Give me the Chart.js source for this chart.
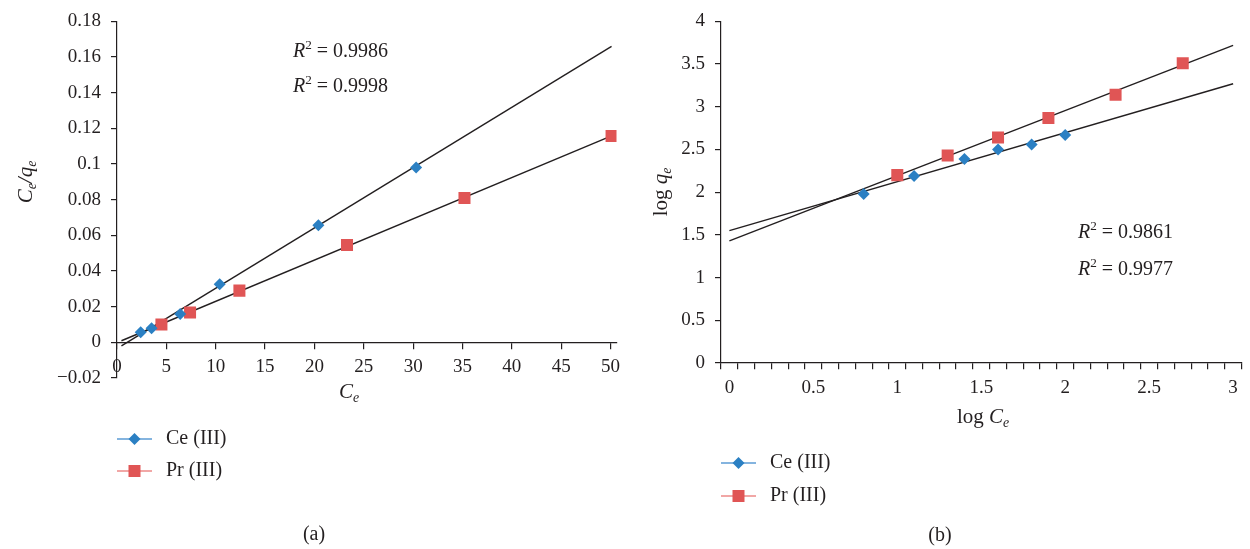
<!DOCTYPE html>
<html>
<head>
<meta charset="utf-8">
<script src="https://cdn.jsdelivr.net/npm/chart.js@4/dist/chart.umd.min.js"></script>
<style>
  body { margin: 0; background: #fff; }
  #wrap { position: relative; width: 1250px; height: 549px; }
  canvas { position: absolute; top: 0; }
</style>
</head>
<body>
<div id="wrap">
  <canvas id="chartA" width="625" height="549" style="left:0"></canvas>
  <canvas id="chartB" width="625" height="549" style="left:625px"></canvas>
</div>
<script>
// (a) Ce/qe vs Ce
const ceXa = [2.4, 3.5, 6.4, 10.4, 20.4, 30.3];
const ceYa = [0.0057, 0.0079, 0.0159, 0.0326, 0.0657, 0.098];
const prXa = [4.5, 7.4, 12.4, 23.3, 35.2, 50.1];
const prYa = [0.0100, 0.0167, 0.0290, 0.0546, 0.0810, 0.1157];
const ceFitXa = [0.45, 50.1];
const ceFitYa = [-0.002, 0.166];
const prFitXa = [0.45, 50.1];
const prFitYa = [0.0009, 0.1158];
const xTicksA = [0, 5, 10, 15, 20, 25, 30, 35, 40, 45, 50];
const yTicksA = [-0.02, 0, 0.02, 0.04, 0.06, 0.08, 0.1, 0.12, 0.14, 0.16, 0.18];
const r2A = ['0.9986', '0.9998'];

// (b) log qe vs log Ce
const ceXb = [0.8, 1.1, 1.4, 1.6, 1.8, 2.0];
const ceYb = [1.98, 2.19, 2.39, 2.50, 2.56, 2.67];
const prXb = [1.0, 1.3, 1.6, 1.9, 2.3, 2.7];
const prYb = [2.20, 2.43, 2.64, 2.87, 3.14, 3.51];
const ceFitXb = [0, 3];
const ceFitYb = [1.55, 3.27];
const prFitXb = [0, 3];
const prFitYb = [1.43, 3.72];
const xTicksB = [0, 0.5, 1, 1.5, 2, 2.5, 3];
const yTicksB = [0, 0.5, 1, 1.5, 2, 2.5, 3, 3.5, 4];
const r2B = ['0.9861', '0.9977'];

const seriesNames = ['Ce (III)', 'Pr (III)'];

const BLUE = '#2b80c3';
const RED = '#e05555';
const BLUE_LINE = '#5b9bd5';
const RED_LINE = '#ec8a88';
const INK = '#231f20';
const FONT = '"Liberation Serif", "DejaVu Serif", serif';

const pts = (xs, ys) => xs.map((x, i) => ({ x: x, y: ys[i] }));

// rich text: parts with italic / sub / sup
function drawRich(ctx, parts, x, y, align, size) {
  let w = 0;
  const info = parts.map(p => {
    const s = (p.sub || p.sup) ? size * 0.66 : size;
    const f = (p.it ? 'italic ' : '') + s + 'px ' + FONT;
    ctx.font = f;
    const pw = ctx.measureText(p.t).width;
    w += pw;
    return { f, pw };
  });
  let cx = align === 'center' ? x - w / 2 : x;
  ctx.textAlign = 'left';
  ctx.textBaseline = 'middle';
  ctx.fillStyle = INK;
  parts.forEach((p, i) => {
    ctx.font = info[i].f;
    const dy = p.sub ? size * 0.3 : (p.sup ? -size * 0.32 : 0);
    ctx.fillText(p.t, cx, y + dy);
    cx += info[i].pw;
  });
}

function drawMarker(ctx, style, x, y, color) {
  ctx.fillStyle = color;
  ctx.beginPath();
  if (style === 'rectRot') {
    const r = 6;
    ctx.moveTo(x, y - r); ctx.lineTo(x + r, y); ctx.lineTo(x, y + r); ctx.lineTo(x - r, y);
    ctx.closePath();
  } else {
    ctx.rect(x - 6, y - 6, 12, 12);
  }
  ctx.fill();
}

// axis titles, R² notes, legend, caption
const annotPlugin = {
  id: 'annot',
  afterDraw(chart, args, o) {
    const ctx = chart.ctx;
    ctx.save();
    ctx.save();
    ctx.translate(o.yTitle.x, o.yTitle.y);
    ctx.rotate(-Math.PI / 2);
    drawRich(ctx, o.yTitle.parts, 0, 0, 'center', 21);
    ctx.restore();
    drawRich(ctx, o.xTitle.parts, o.xTitle.x, o.xTitle.y, 'center', 21);
    o.r2.values.forEach((v, i) => {
      drawRich(ctx, [{ t: 'R', it: true }, { t: '2', sup: true }, { t: ' = ' + v }],
        o.r2.x, o.r2.y + i * o.r2.gap, 'left', 20);
    });
    const lg = o.legend;
    seriesNames.forEach((name, i) => {
      const y = lg.y + i * lg.gap;
      ctx.strokeStyle = i === 0 ? BLUE_LINE : RED_LINE;
      ctx.lineWidth = 1.5;
      ctx.beginPath();
      ctx.moveTo(lg.x, y);
      ctx.lineTo(lg.x + 35, y);
      ctx.stroke();
      drawMarker(ctx, i === 0 ? 'rectRot' : 'rect', lg.x + 17.5, y, i === 0 ? BLUE : RED);
      drawRich(ctx, [{ t: name }], lg.x + 49, y, 'left', 20);
    });
    drawRich(ctx, [{ t: o.caption.t }], o.caption.x, o.caption.y, 'center', 20);
    ctx.restore();
  }
};

function fmt(v) {
  const s = String(Number(v.toFixed(3)));
  return s.replace('-', '\u2212');
}

function datasets(ceX, ceY, prX, prY, ceFx, ceFy, prFx, prFy) {
  return [
    { label: seriesNames[0], data: pts(ceX, ceY), pointStyle: 'rectRot', pointRadius: 6,
      backgroundColor: BLUE, borderColor: BLUE, pointBorderWidth: 0, showLine: false, order: 0 },
    { label: seriesNames[1], data: pts(prX, prY), pointStyle: 'rect', pointRadius: 8.5,
      backgroundColor: RED, borderColor: RED, pointBorderWidth: 0, showLine: false, order: 0 },
    { label: 'fitCe', data: pts(ceFx, ceFy), showLine: true, pointRadius: 0,
      borderColor: INK, borderWidth: 1.4, order: 1 },
    { label: 'fitPr', data: pts(prFx, prFy), showLine: true, pointRadius: 0,
      borderColor: INK, borderWidth: 1.4, order: 1 }
  ];
}

const tickFont = { family: FONT, size: 19 };
const gridCommon = { drawOnChartArea: false, color: INK, tickLength: 6, lineWidth: 1.2 };
const borderCommon = { display: true, color: INK, width: 1.2 };
const noSidePad = s => { s.paddingLeft = 0; s.paddingRight = 0; };

function baseOptions(padding) {
  return {
    responsive: false,
    animation: false,
    devicePixelRatio: 1,
    layout: { padding: padding },
    plugins: { legend: { display: false }, tooltip: { enabled: false } }
  };
}

// ---- chart (a)
const optsA = baseOptions({ left: 0, top: 18, right: 8, bottom: 171 });
optsA.scales = {
  x: {
    type: 'linear', min: 0, max: 50.6, position: { y: 0 },
    afterBuildTicks: s => { s.ticks = xTicksA.map(v => ({ value: v })); },
    afterFit: noSidePad,
    ticks: { font: tickFont, color: INK, padding: 7, maxRotation: 0, autoSkip: false, callback: v => fmt(v) },
    grid: gridCommon, border: borderCommon
  },
  y: {
    type: 'linear', min: -0.02, max: 0.18,
    afterBuildTicks: s => { s.ticks = yTicksA.map(v => ({ value: v })); },
    afterFit: s => { s.width = 117; },
    ticks: { font: tickFont, color: INK, padding: 10, autoSkip: false, callback: v => fmt(v) },
    grid: gridCommon, border: borderCommon
  }
};
optsA.plugins.annot = {
  yTitle: { x: 26, y: 182, parts: [{ t: 'C', it: true }, { t: 'e', it: true, sub: true }, { t: '/', it: true }, { t: 'q', it: true }, { t: 'e', it: true, sub: true }] },
  xTitle: { x: 349, y: 392, parts: [{ t: 'C', it: true }, { t: 'e', it: true, sub: true }] },
  r2: { x: 293, y: 52, gap: 35, values: r2A },
  legend: { x: 117, y: 439, gap: 32 },
  caption: { x: 314, y: 535, t: '(a)' }
};

new Chart(document.getElementById('chartA'), {
  type: 'scatter',
  data: { datasets: datasets(ceXa, ceYa, prXa, prYa, ceFitXa, ceFitYa, prFitXa, prFitYa) },
  options: optsA,
  plugins: [annotPlugin]
});

// ---- chart (b)
const optsB = baseOptions({ left: 0, top: 19, right: 6, bottom: 186 });
optsB.scales = {
  x: {
    type: 'linear', min: -0.05, max: 3.05, position: { y: 0 },
    afterBuildTicks: s => {
      const t = [];
      for (let i = 0; i <= 30; i++) t.push({ value: i / 10 });
      s.ticks = t;
    },
    afterFit: noSidePad,
    ticks: {
      font: tickFont, color: INK, padding: 8, maxRotation: 0, autoSkip: false,
      callback: v => {
        const hit = xTicksB.find(t => Math.abs(t - v) < 1e-6);
        return hit === undefined ? '' : fmt(hit);
      }
    },
    grid: Object.assign({}, gridCommon, { offset: true }), border: borderCommon
  },
  y: {
    type: 'linear', min: 0, max: 4,
    afterBuildTicks: s => { s.ticks = yTicksB.map(v => ({ value: v })); },
    afterFit: s => { s.width = 96; },
    ticks: { font: tickFont, color: INK, padding: 10, autoSkip: false, callback: v => fmt(v) },
    grid: gridCommon, border: borderCommon
  }
};
optsB.plugins.annot = {
  yTitle: { x: 36, y: 192, parts: [{ t: 'log ' }, { t: 'q', it: true }, { t: 'e', it: true, sub: true }] },
  xTitle: { x: 358, y: 417, parts: [{ t: 'log ' }, { t: 'C', it: true }, { t: 'e', it: true, sub: true }] },
  r2: { x: 453, y: 233, gap: 37, values: r2B },
  legend: { x: 96, y: 463, gap: 33 },
  caption: { x: 315, y: 536, t: '(b)' }
};

new Chart(document.getElementById('chartB'), {
  type: 'scatter',
  data: { datasets: datasets(ceXb, ceYb, prXb, prYb, ceFitXb, ceFitYb, prFitXb, prFitYb) },
  options: optsB,
  plugins: [annotPlugin]
});
</script>
</body>
</html>
